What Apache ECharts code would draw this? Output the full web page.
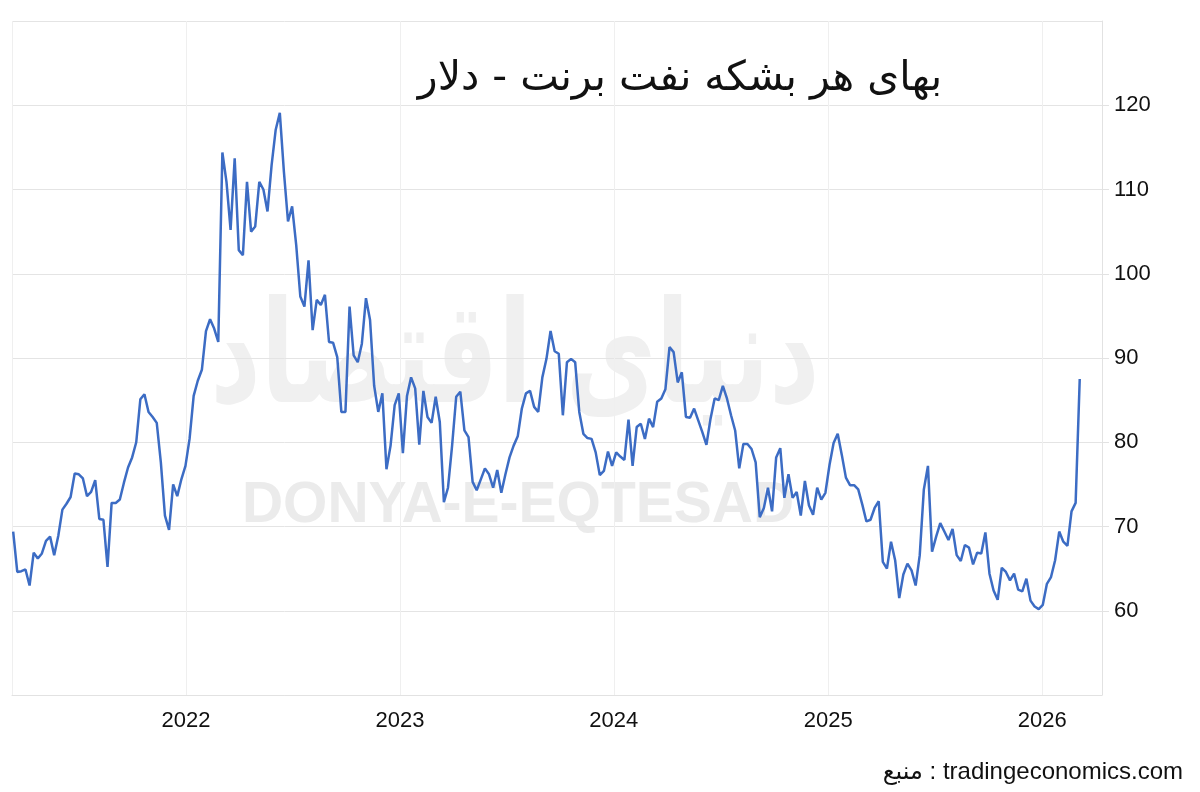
<!DOCTYPE html>
<html>
<head>
<meta charset="utf-8">
<script src="https://cdn.jsdelivr.net/npm/echarts@6/dist/echarts.min.js"></script>
<style>
html,body{margin:0;padding:0;background:#fff;}
#chart{width:1200px;height:792px;}
</style>
</head>
<body>
<div id="chart"></div>
<script>
// Weekly Brent crude price (USD per barrel), first week 2021-03-12
const firstWeek = '2021-03-12';
const brentValues = [
  69.4, 64.6, 64.7, 64.9, 63.0, 66.9, 66.2, 66.8, 68.3, 68.8, 66.6, 68.9, 72.0, 72.7, 73.5, 76.3, 76.2, 75.7, 73.6, 74.1,
  75.5, 70.9, 70.8, 65.2, 72.8, 72.8, 73.2, 75.2, 77.0, 78.2, 80.0, 85.1, 85.7, 83.6, 83.0, 82.3, 77.6, 71.3, 69.6, 75.0,
  73.6, 75.6, 77.2, 80.4, 85.5, 87.3, 88.6, 93.2, 94.6,
  93.5, 91.9, 114.4, 110.9, 105.2, 113.7, 102.8, 102.2, 110.9, 105.0, 105.6, 110.9, 110.0, 107.4, 112.9, 117.1, 119.1, 112.1, 106.2, 108.0,
  103.4, 97.3, 96.1, 101.6, 93.3, 96.9, 96.3, 97.5, 91.9, 91.8, 90.1, 83.6, 83.6, 96.1, 90.3, 89.5, 91.7, 97.1, 94.5, 86.7,
  83.6, 85.8, 76.8,
  79.6, 84.4, 85.8, 78.7, 85.5, 87.7, 86.4, 79.7, 86.1, 83.0, 82.3, 85.4, 82.4, 72.9, 74.6, 79.6, 85.4, 86.0, 81.4, 80.6,
  75.3, 74.3, 75.6, 76.9, 76.2, 74.6, 76.7, 74.0, 76.2, 78.2, 79.6, 80.7, 84.0, 85.8, 86.1, 84.2, 83.6, 87.7, 89.9, 93.2,
  90.8, 90.5, 83.2, 89.5, 89.9,
  89.5, 83.6, 81.0, 80.5, 80.4, 78.8, 76.1, 76.6, 78.9, 77.2, 78.8, 78.3, 77.9, 82.7, 77.2, 81.8, 82.2, 80.4, 82.8, 81.8,
  84.8, 85.2, 86.3, 91.3, 90.7, 87.1, 88.3, 83.0, 82.9, 84.0, 82.6, 81.2, 79.7, 82.8, 85.2, 85.0, 86.7, 85.2, 83.2, 81.4,
  76.9, 79.8, 79.8, 79.2, 77.6, 71.1,
  72.2, 74.6, 71.8, 78.2, 79.3, 73.4, 76.2, 73.4, 74.1, 71.3, 75.4, 72.5, 71.4, 74.6, 73.2, 74.0, 77.3, 79.9, 81.0, 78.5,
  75.8, 74.9, 74.9, 74.4, 72.6, 70.6, 70.8, 72.2, 73.0, 65.8, 65.0, 68.2, 66.0, 61.5, 64.3, 65.6, 64.8, 63.0, 66.6, 74.4,
  77.2,
  67.0, 68.8, 70.4, 69.4, 68.4, 69.7, 66.6, 65.9, 67.8, 67.5, 65.5, 66.9, 66.8, 69.3, 64.4, 62.4, 61.3, 65.1, 64.6, 63.6,
  64.4, 62.5, 62.3, 63.8, 61.2, 60.5, 60.2, 60.7, 63.2, 64.0, 66.0, 69.4, 68.2, 67.7, 71.8, 72.8, 87.5
];
const xAxisStart = '2021-03-10';
const xAxisEnd = '2026-04-13';
const yTicks = [50, 60, 70, 80, 90, 100, 110, 120, 130];

const titleText = 'بهای هر بشکه نفت برنت - دلار';
const sourceText = 'منبع : tradingeconomics.com';
const watermarkFa = 'دنیای اقتصاد';
const watermarkEn = 'DONYA-E-EQTESAD';

// weekly dates
const weekDates = [];
(function(){
  const d0 = new Date(firstWeek + 'T00:00:00Z').getTime();
  for (let i = 0; i < brentValues.length; i++) {
    weekDates.push(d0 + i * 7 * 86400000);
  }
})();
const seriesData = brentValues.map((v, i) => [weekDates[i], v]);

const labelFont = 'Arial, "Liberation Sans", sans-serif';
const chart = echarts.init(document.getElementById('chart'), null, {renderer: 'canvas'});
chart.setOption({
  animation: false,
  backgroundColor: '#ffffff',
  grid: {left: 12, right: 98, top: 21, bottom: 97, containLabel: false, outerBoundsMode: 'none'},
  xAxis: {
    type: 'time',
    min: new Date(xAxisStart + 'T00:00:00Z').getTime(),
    max: new Date(xAxisEnd + 'T00:00:00Z').getTime(),
    minInterval: 365 * 86400000,
    axisLine: {show: true, lineStyle: {color: '#e2e2e2', width: 1}},
    axisTick: {show: false},
    axisLabel: {
      formatter: '{yyyy}', color: '#111111', fontSize: 22,
      fontFamily: labelFont, margin: 15,
      showMinLabel: false, showMaxLabel: false
    },
    splitLine: {show: true, lineStyle: {color: '#efefef', width: 1}}
  },
  yAxis: {
    type: 'value',
    position: 'right',
    min: yTicks[0], max: yTicks[yTicks.length - 1], interval: 10,
    axisLine: {show: true, lineStyle: {color: '#e2e2e2', width: 1}},
    axisTick: {show: true, length: 7, lineStyle: {color: '#e2e2e2'}},
    axisLabel: {
      color: '#111111', fontSize: 22, fontFamily: labelFont,
      margin: 12, showMinLabel: false, showMaxLabel: false
    },
    splitLine: {show: true, lineStyle: {color: '#e4e4e4', width: 1}}
  },
  graphic: [
    {type: 'text', z: -10, x: 515, y: 365, scaleY: 1.45, style: {
      x: 0, y: 0, text: watermarkFa, fill: '#f0f0f0',
      font: 'bold 98px "DejaVu Sans", sans-serif', textAlign: 'center', textVerticalAlign: 'middle'
    }},
    {type: 'text', z: -9, style: {
      x: 518, y: 506, text: watermarkEn, fill: '#ebebeb',
      font: 'bold 57px "Liberation Sans", Arial, sans-serif', textAlign: 'center', textVerticalAlign: 'middle'
    }},
    {type: 'text', z: 10, style: {
      x: 680, y: 79, text: titleText, fill: '#111111',
      font: '41px "DejaVu Sans", sans-serif', textAlign: 'center', textVerticalAlign: 'middle'
    }},
    {type: 'text', z: 10, style: {
      x: 1183, y: 772, text: sourceText, fill: '#111111',
      font: '24px "Liberation Sans", Arial, "DejaVu Sans", sans-serif', textAlign: 'right', textVerticalAlign: 'middle'
    }}
  ],
  series: [{
    type: 'line',
    data: seriesData,
    showSymbol: false,
    symbol: 'none',
    smooth: false,
    z: 5,
    lineStyle: {color: '#3c6cc4', width: 2.5},
    itemStyle: {color: '#3c6cc4'}
  }]
});
</script>
</body>
</html>
